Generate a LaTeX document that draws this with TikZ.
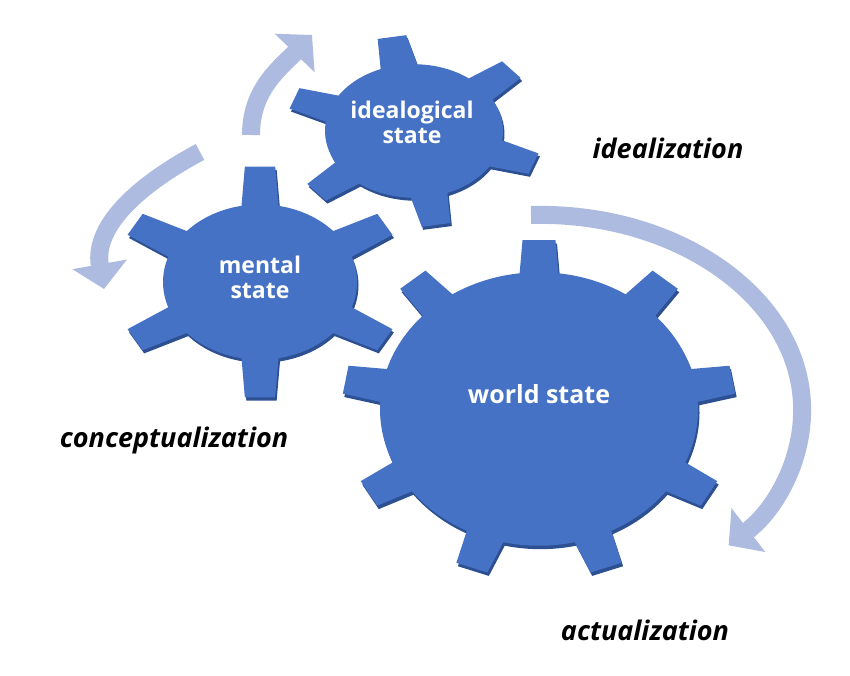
\documentclass[tikz,border=0pt]{standalone}
\usepackage{fontspec}
\setmainfont{Open Sans}
\usetikzlibrary{arrows.meta}
\definecolor{gearblue}{RGB}{69,114,196}
\definecolor{gearedge}{RGB}{45,80,146}
\definecolor{flowblue}{RGB}{172,187,223}
% #1 teeth, #2 body radius, #3 tip radius, #4 base half angle, #5 tip half angle, #6 first tooth
\newcommand{\gearpath}[6]{({#6-#4}:#2)
  \foreach \gi in {1,...,#1}{
    -- ({#6+(\gi-1)*360/#1-#5}:#3) -- ({#6+(\gi-1)*360/#1+#5}:#3)
    -- ({#6+(\gi-1)*360/#1+#4}:#2)
    arc[start angle={#6+(\gi-1)*360/#1+#4}, end angle={#6+\gi*360/#1-#4}, radius=#2]
  } -- cycle}
\begin{document}
\begin{tikzpicture}[
      x=1pt, y=1pt,
      gearlabel/.style={text=white, align=center, font=\fontsize{23}{25}\selectfont\bfseries},
      stage/.style={text=black, font=\fontsize{27}{30}\selectfont\bfseries\itshape},
      flow/.style={draw=flowblue, line width=18pt, -{Triangle[length=25pt,width=54pt]}},
      thick
      ]
  \useasboundingbox (0,0) rectangle (850,-676);

  % gears
  \begin{scope}[shift={(414,-131)}, yscale=0.75]
    \fill[gearedge, shift={(1.5,-4)}] \gearpath{6}{89}{128}{12}{6.5}{100};
    \fill[gearblue] \gearpath{6}{89}{128}{12}{6.5}{100};
  \end{scope}
  \begin{scope}[shift={(260,-282)}, yscale=0.8]
    \fill[gearedge, shift={(1.5,-4)}] \gearpath{6}{97}{145}{11}{6}{90};
    \fill[gearblue] \gearpath{6}{97}{145}{11}{6}{90};
  \end{scope}
  \begin{scope}[shift={(539,-409)}, yscale=0.86]
    \fill[gearedge, shift={(1.5,-4)}] \gearpath{9}{159}{197}{7}{4.8}{90};
    \fill[gearblue] \gearpath{9}{159}{197}{7}{4.8}{90};
  \end{scope}

  \node[gearlabel] (ideal)  at (412,-122) {idealogical\\state};
  \node[gearlabel] (mental) at (260,-277) {mental\\state};
  \node[gearlabel, font=\fontsize{25}{27}\selectfont\bfseries] (world) at (539,-394) {world state};

  \node[stage] (idz) at (668,-148) {idealization};
  \node[stage] (cpt) at (174,-440) {conceptualization};
  \node[stage] (act) at (645,-630) {actualization};

  % arrows
  \coordinate (ttail) at (251,-135);
  \coordinate (ttip)  at (312,-35);
  \coordinate (ltail) at (200,-152);
  \coordinate (ltip)  at (104,-289);
  \coordinate (rtail) at (531,-215);
  \draw[flow] (ttail) to[out=90, in=226] (ttip);
  \draw[flow] (ltail) to[out=208, in=100] (ltip);
  \draw[flow] (rtail) arc[start angle=92, end angle=-44, x radius=262, y radius=195];

\end{tikzpicture}
\end{document}
